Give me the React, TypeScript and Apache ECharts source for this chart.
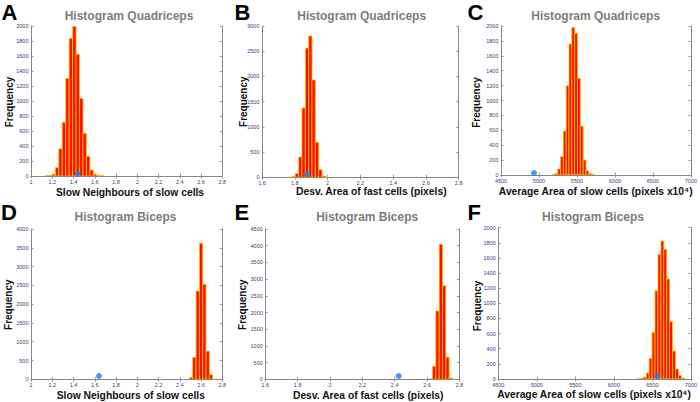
import React, { useEffect, useRef } from "react";
import * as echarts from "echarts";

// ---- Data ----
// Histogram bin centres and counts per panel
const binsA = [1.148, 1.18, 1.213, 1.245, 1.278, 1.31, 1.343, 1.375, 1.408, 1.44, 1.473, 1.505, 1.538, 1.57, 1.603, 1.635, 1.668];
const countsA = [3, 8, 22, 111, 364, 716, 1302, 1836, 1995, 1622, 1036, 569, 262, 80, 22, 10, 3];

const binsB = [1.772, 1.793, 1.813, 1.834, 1.854, 1.875, 1.895, 1.915, 1.936, 1.956, 1.976, 1.997];
const countsB = [3, 15, 73, 403, 1374, 2564, 2802, 1930, 694, 152, 25, 5];

const binsC = [5190, 5227, 5265, 5302, 5339, 5377, 5414, 5451, 5488, 5526, 5563, 5600, 5638, 5675, 5712];
const countsC = [5, 20, 80, 246, 590, 1199, 1758, 1982, 1901, 1297, 657, 201, 58, 22, 8];

const binsD = [2.506, 2.537, 2.569, 2.6, 2.631, 2.663, 2.694];
const countsD = [50, 585, 2350, 3620, 2530, 750, 120];

const binsE = [2.624, 2.645, 2.665, 2.686, 2.706, 2.727, 2.747];
const countsE = [20, 389, 2046, 4042, 2804, 659, 40];

const binsF = [6325, 6363, 6401, 6439, 6477, 6515, 6553, 6592, 6630, 6667, 6706, 6743, 6782, 6819, 6858, 6896];
const countsF = [4, 10, 26, 79, 273, 617, 1167, 1647, 1824, 1714, 1322, 758, 370, 132, 44, 13];

const binWidths = [0.0325, 0.0204, 37.3, 0.0314, 0.0206, 38];

// Observed value (blue dot) per panel
const observedX = [1.44, 1.876, 4935, 1.64, 2.425, 6565];
const observedY = [31, 66, 27, 88, 99, 40];

// Axis ranges / tick steps
const xMins = [1, 1.6, 4500, 1, 1.6, 4500];
const xMaxs = [2.8, 2.8, 7000, 2.8, 2.8, 7000];
const xSteps = [0.2, 0.2, 500, 0.2, 0.2, 500];
const yMaxs = [2000, 3000, 2000, 4000, 4500, 2000];
const ySteps = [200, 500, 200, 500, 500, 200];

// Texts
const panelLetters = ["A", "B", "C", "D", "E", "F"];
const panelTitles = [
  "Histogram Quadriceps",
  "Histogram Quadriceps",
  "Histogram Quadriceps",
  "Histogram Biceps",
  "Histogram Biceps",
  "Histogram Biceps",
];
const xNames = [
  "Slow Neighbours of slow cells",
  "Desv. Area of fast cells (pixels)",
  "Average Area of slow cells (pixels x10\u2074)",
  "Slow Neighbours of slow cells",
  "Desv. Area of fast cells (pixels)",
  "Average Area of slow cells (pixels x10\u2074)",
];
const yName = "Frequency";

const allBins = [binsA, binsB, binsC, binsD, binsE, binsF];
const allCounts = [countsA, countsB, countsC, countsD, countsE, countsF];

// ---- Layout ----
const grids = [
  { left: 31, top: 26, width: 191.3, height: 150 },
  { left: 262, top: 26, width: 196.7, height: 151.3 },
  { left: 501, top: 26, width: 190.7, height: 149 },
  { left: 31, top: 229, width: 191.3, height: 150.3 },
  { left: 265.3, top: 229, width: 194, height: 150.3 },
  { left: 498.3, top: 227.7, width: 194.4, height: 151.3 },
];
const letterPos = [
  [1.5, 12.5], [234.5, 12.5], [467.5, 12.5],
  [1, 212.5], [234.5, 212.5], [467.5, 212.5],
];
const titlePos = [
  [129, 15.7], [361.7, 15.7], [595.7, 15.7],
  [125.5, 216.7], [367.2, 216.7], [593, 216.7],
];
const xNamePos = [
  [130, 192], [371.3, 191], [595.7, 191],
  [130.8, 395], [368.2, 395], [594, 394.5],
];
const yNamePos = [
  [9.3, 102], [243.7, 101.7], [476, 102.5],
  [8.3, 304.7], [242, 304.7], [477, 306],
];

const FONT = '"Liberation Sans", Arial, Helvetica, sans-serif';
const BOX = "#858585";
const TICKLABEL = "#3b3b7c";

export default function App() {
  const ref = useRef<HTMLDivElement>(null);

  useEffect(() => {
    if (!ref.current) return;
    const chart = echarts.init(ref.current, null, { renderer: "svg" });

    const xAxes: any[] = [];
    const yAxes: any[] = [];
    const series: any[] = [];
    const graphics: any[] = [];
    const plain = (v: number) => String(Math.round(v * 1000) / 1000);

    for (let i = 0; i < 6; i++) {
      const tick = { show: true, inside: true, length: 2.5, lineStyle: { color: BOX, width: 0.8 } };
      const baseX = {
        type: "value",
        gridIndex: i,
        min: xMins[i],
        max: xMaxs[i],
        interval: xSteps[i],
        splitLine: { show: false },
        axisLine: { show: true, lineStyle: { color: BOX, width: 1 } },
        axisTick: tick,
      };
      xAxes.push({
        ...baseX,
        position: "bottom",
        axisLabel: { show: true, fontSize: 5.5, color: TICKLABEL, margin: 3, fontFamily: FONT, formatter: plain },
      });
      xAxes.push({
        ...baseX,
        position: "top",
        axisLabel: { show: false },
      });
      const baseY = {
        type: "value",
        gridIndex: i,
        min: 0,
        max: yMaxs[i],
        interval: ySteps[i],
        splitLine: { show: false },
        axisLine: { show: true, lineStyle: { color: BOX, width: 1 } },
        axisTick: tick,
      };
      yAxes.push({
        ...baseY,
        position: "left",
        axisLabel: { show: true, fontSize: 5.5, color: TICKLABEL, margin: 2.5, fontFamily: FONT, formatter: plain },
      });
      yAxes.push({
        ...baseY,
        position: "right",
        axisLabel: { show: false },
      });

      const w = binWidths[i];
      const data = allBins[i].map((b, k) => [b, allCounts[i][k]]);
      series.push({
        type: "custom",
        xAxisIndex: 2 * i,
        yAxisIndex: 2 * i,
        clip: true,
        data,
        encode: { x: 0, y: 1 },
        renderItem: (params: any, api: any) => {
          const x = api.value(0);
          const y = api.value(1);
          const p0 = api.coord([x - w / 2, y]);
          const p1 = api.coord([x + w / 2, 0]);
          return {
            type: "rect",
            shape: { x: p0[0], y: p0[1], width: p1[0] - p0[0], height: p1[1] - p0[1] },
            style: { fill: "#ff0d00", stroke: "#ffcc00", lineWidth: 0.8 },
          };
        },
        z: 2,
      });
      series.push({
        type: "scatter",
        xAxisIndex: 2 * i,
        yAxisIndex: 2 * i,
        data: [[observedX[i], observedY[i]]],
        symbol: "circle",
        symbolSize: 6,
        itemStyle: { color: "#1f80f2" },
        z: 5,
      });

      graphics.push({
        type: "text",
        x: letterPos[i][0],
        y: letterPos[i][1],
        style: {
          text: panelLetters[i],
          fontSize: 22,
          fontWeight: "bold",
          fontFamily: FONT,
          fill: "#000",
          align: "left",
          verticalAlign: "middle",
        },
      });
      graphics.push({
        type: "text",
        x: titlePos[i][0],
        y: titlePos[i][1],
        style: {
          text: panelTitles[i],
          fontSize: 12,
          fontWeight: "bold",
          fontFamily: FONT,
          fill: "#7d7d7d",
          align: "center",
          verticalAlign: "middle",
        },
      });
      graphics.push({
        type: "text",
        x: xNamePos[i][0],
        y: xNamePos[i][1],
        style: {
          text: xNames[i],
          fontSize: 10.3,
          fontWeight: "bold",
          fontFamily: FONT,
          fill: "#111",
          align: "center",
          verticalAlign: "middle",
        },
      });
      graphics.push({
        type: "text",
        x: yNamePos[i][0],
        y: yNamePos[i][1],
        rotation: Math.PI / 2,
        style: {
          text: yName,
          fontSize: 10,
          fontWeight: "bold",
          fontFamily: FONT,
          fill: "#111",
          align: "center",
          verticalAlign: "middle",
        },
      });
    }

    chart.setOption({
      animation: false,
      backgroundColor: "#ffffff",
      grid: grids.map((g) => ({ ...g, containLabel: false, show: false })),
      xAxis: xAxes,
      yAxis: yAxes,
      series,
      graphic: graphics,
    });

    return () => chart.dispose();
  }, []);

  return (
    <div
      ref={ref}
      style={{ position: "absolute", left: 0, top: 0, width: 700, height: 402 }}
    />
  );
}
